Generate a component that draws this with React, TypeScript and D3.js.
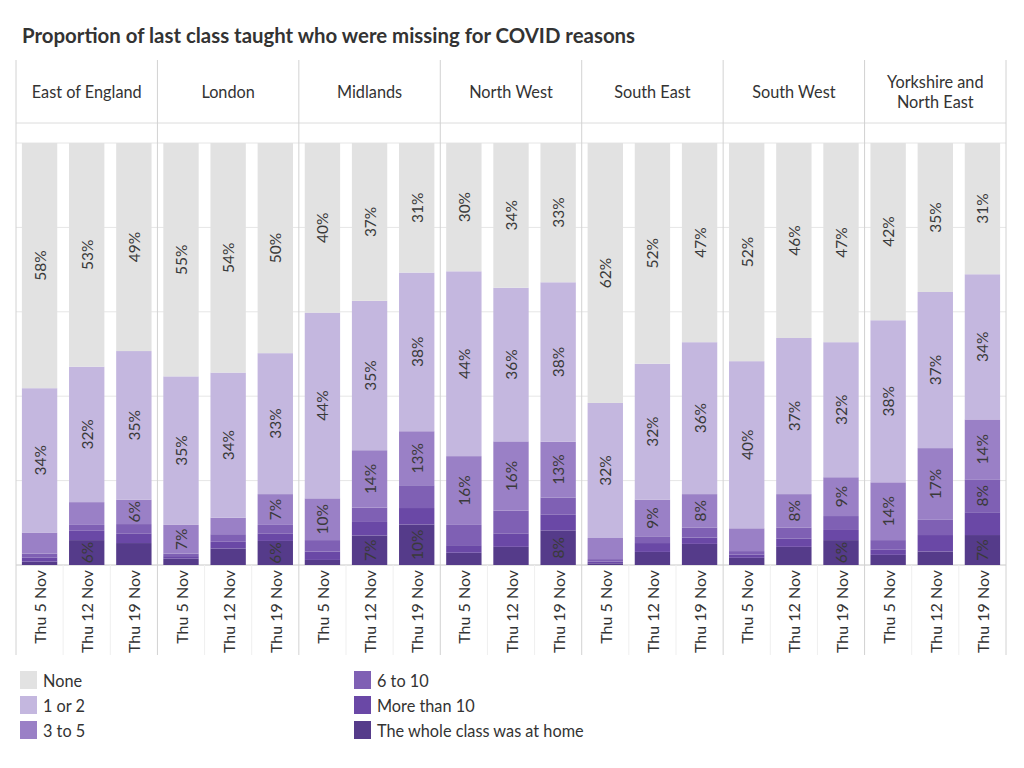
import React, { useEffect } from "react";
import * as d3 from "d3";

const TITLE = "Proportion of last class taught who were missing for COVID reasons";

const regions = [
  "East of England",
  "London",
  "Midlands",
  "North West",
  "South East",
  "South West",
  "Yorkshire and North East",
];
const regionLines: Record<string, string[]> = {
  "Yorkshire and North East": ["Yorkshire and", "North East"],
};
const dates = ["Thu 5 Nov", "Thu 12 Nov", "Thu 19 Nov"];

// stacking order bottom -> top is reversed below (whole class sits at the bottom)
const categories = ["None", "1 or 2", "3 to 5", "6 to 10", "More than 10", "The whole class was at home"];
const colors = ["#e2e2e2", "#c4b7df", "#9a80c6", "#7f60b4", "#6a48a6", "#553b8a"];

// values per region, per date: [none, 1or2, 3to5, 6to10, >10, whole]
const eastOfEngland = [
  [58.1, 34.2, 5.0, 0.9, 1.0, 0.8],
  [53.0, 32.1, 5.4, 1.4, 2.2, 5.9],
  [49.3, 35.2, 5.8, 2.2, 2.3, 5.2],
];
const london = [
  [55.3, 35.2, 6.8, 0.6, 0.6, 1.5],
  [54.4, 34.4, 3.9, 1.8, 1.6, 3.9],
  [49.8, 33.4, 7.3, 2.0, 1.8, 5.7],
];
const midlands = [
  [40.2, 44.0, 9.9, 2.7, 2.0, 1.2],
  [37.4, 35.4, 13.6, 3.4, 3.2, 7.0],
  [30.7, 37.6, 12.8, 5.4, 3.9, 9.6],
];
const northWest = [
  [30.4, 43.8, 16.3, 4.8, 1.8, 2.9],
  [34.3, 36.4, 16.4, 5.4, 3.2, 4.3],
  [33.0, 37.8, 13.2, 4.0, 3.8, 8.2],
];
const southEast = [
  [61.6, 32.0, 5.0, 0.6, 0.4, 0.4],
  [52.3, 32.2, 8.7, 1.6, 2.1, 3.1],
  [47.2, 36.0, 7.9, 2.4, 1.5, 5.0],
];
const southWest = [
  [51.7, 39.6, 5.4, 0.8, 0.8, 1.7],
  [46.2, 37.0, 7.9, 2.6, 2.0, 4.3],
  [47.2, 32.0, 9.2, 3.3, 2.4, 5.9],
];
const yorkshire = [
  [42.0, 38.4, 13.7, 2.3, 1.2, 2.4],
  [35.3, 37.0, 17.0, 3.6, 3.9, 3.2],
  [31.1, 34.4, 14.2, 7.8, 5.4, 7.1],
];
const regionValues = [eastOfEngland, london, midlands, northWest, southEast, southWest, yorkshire];

const gridTicks = [0, 20, 40, 60, 80, 100];

const FONT = "Lato, 'Open Sans', sans-serif";
const INK = "#333333";

export default function App() {
  useEffect(() => {
    document.body.style.margin = "0";
  }, []);

  const left = 16;
  const right = 1006;
  const headTop = 60;
  const headBottom = 123;
  const plotTop = 143;
  const plotBottom = 565;
  const axisBottom = 655;

  const panel = d3.scaleBand<string>().domain(regions).range([left, right]).padding(0);
  const y = d3.scaleLinear().domain([0, 100]).range([plotBottom, plotTop]);

  const stackOrder = [5, 4, 3, 2, 1, 0];

  return (
    <svg width={1024} height={768} style={{ display: "block", fontFamily: FONT }}>
      <rect width={1024} height={768} fill="#ffffff" />
      <text x={22} y={43} fontSize={20.4} fontWeight={700} fill={INK}>
        {TITLE}
      </text>

      {/* grid */}
      {gridTicks.map((t) => (
        <line
          key={t}
          x1={left}
          x2={right}
          y1={y(t)}
          y2={y(t)}
          stroke={t === 0 ? "#c8c8c8" : "#e6e6e6"}
          strokeWidth={1}
        />
      ))}
      <line x1={left} x2={right} y1={headBottom} y2={headBottom} stroke="#dcdcdc" />

      {regions.map((r, ri) => {
        const px = panel(r) as number;
        const pw = panel.bandwidth();
        const x = d3.scaleBand<string>().domain(dates).range([px, px + pw]).paddingInner(0.25).paddingOuter(0.125);
        const lines = regionLines[r] || [r];
        const cx = px + pw / 2;
        const headMid = (headTop + headBottom) / 2;
        return (
          <g key={r}>
            {lines.map((ln, li) => (
              <text
                key={ln}
                x={cx}
                y={headMid + (li - (lines.length - 1) / 2) * 20}
                textAnchor="middle"
                dominantBaseline="central"
                fontSize={16.3}
                fill={INK}
              >
                {ln}
              </text>
            ))}
            {dates.slice(1).map((d) => {
              const gx = (x(d) as number) - (x.step() - x.bandwidth()) / 2;
              return <line key={d} x1={gx} x2={gx} y1={plotBottom} y2={axisBottom} stroke="#efefef" />;
            })}
            {dates.map((d, di) => {
              const vals = regionValues[ri][di];
              const bx = x(d) as number;
              const bw = x.bandwidth();
              let acc = 0;
              const segs = stackOrder.map((ci) => {
                const y0 = acc;
                acc += vals[ci];
                return { ci, y0, y1: acc, v: vals[ci] };
              });
              return (
                <g key={d}>
                  {segs.map((s) => (
                    <rect
                      key={s.ci}
                      x={bx}
                      y={y(s.y1)}
                      width={bw}
                      height={y(s.y0) - y(s.y1)}
                      fill={colors[s.ci]}
                    />
                  ))}
                  {segs
                    .filter((s) => Math.round(s.v) >= 6)
                    .map((s) => {
                      const cy = y((s.y0 + s.y1) / 2);
                      return (
                        <text
                          key={"l" + s.ci}
                          transform={`translate(${bx + bw / 2},${cy}) rotate(-90)`}
                          textAnchor="middle"
                          dominantBaseline="central"
                          fontSize={15.5}
                          fill="#3a3a3a"
                        >
                          {Math.round(s.v)}%
                        </text>
                      );
                    })}
                  <text
                    transform={`translate(${bx + bw / 2},${plotBottom + 5}) rotate(-90)`}
                    textAnchor="end"
                    dominantBaseline="central"
                    fontSize={16}
                    fill={INK}
                  >
                    {d}
                  </text>
                </g>
              );
            })}
          </g>
        );
      })}

      {/* panel dividers */}
      {[...regions.map((r) => panel(r) as number), right].map((vx, i) => (
        <line key={i} x1={vx} x2={vx} y1={headTop} y2={axisBottom} stroke="#d2d2d2" />
      ))}

      {/* legend */}
      {categories.map((c, i) => {
        const col = Math.floor(i / 3);
        const row = i % 3;
        const lx = col === 0 ? 20 : 354;
        const ly = 671 + row * 25;
        return (
          <g key={c}>
            <rect x={lx} y={ly} width={17} height={18} fill={colors[i]} />
            <text x={lx + 23} y={ly + 9} dominantBaseline="central" fontSize={16.3} fill={INK}>
              {c}
            </text>
          </g>
        );
      })}
    </svg>
  );
}
